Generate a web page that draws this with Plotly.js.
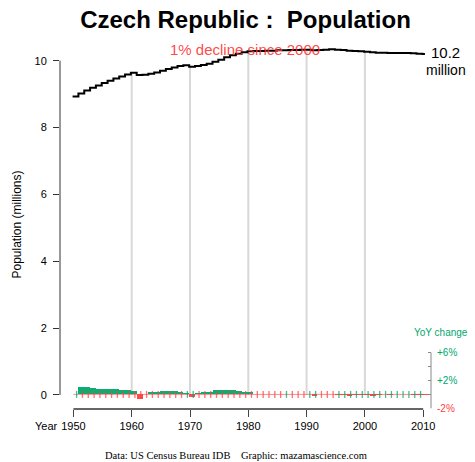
<!DOCTYPE html>
<html>
<head>
<meta charset="utf-8">
<script src="https://cdn.plot.ly/plotly-3.0.1.min.js"></script>
<style>html,body{margin:0;padding:0;background:#fff;}#chart{width:475px;height:462px;}</style>
</head>
<body>
<div id="chart"></div>
<script>
// ---- data ----
const years = [1950,1951,1952,1953,1954,1955,1956,1957,1958,1959,
               1960,1961,1962,1963,1964,1965,1966,1967,1968,1969,
               1970,1971,1972,1973,1974,1975,1976,1977,1978,1979,
               1980,1981,1982,1983,1984,1985,1986,1987,1988,1989,
               1990,1991,1992,1993,1994,1995,1996,1997,1998,1999,
               2000,2001,2002,2003,2004,2005,2006,2007,2008,2009,2010];
// population, millions
const population = [8.93,9.02,9.11,9.19,9.26,9.33,9.40,9.47,9.53,9.59,
                    9.64,9.57,9.58,9.61,9.65,9.70,9.75,9.80,9.84,9.86,
                    9.82,9.84,9.87,9.91,9.97,10.03,10.10,10.16,10.21,10.25,
                    10.28,10.29,10.29,10.30,10.30,10.31,10.31,10.32,10.32,10.33,
                    10.33,10.31,10.32,10.33,10.34,10.33,10.32,10.30,10.29,10.28,
                    10.27,10.25,10.24,10.24,10.23,10.23,10.23,10.23,10.22,10.21,10.20];
// yearly rug mark colour (g = green, r = red), 1950..2009
const rugSign = ['g','r','r','r','r','r','r','r','r','r',
                 'r','r','r','r','r','r','r','r','r','g',
                 'g','r','r','r','r','r','r','r','r','r',
                 'r','r','r','r','r','r','g','r','r','r',
                 'g','g','r','r','r','g','g','g','g','g',
                 'g','g','g','g','g','g','g','g','g','g'];
const decades = [1960,1970,1980,1990,2000];
const xTicks = [1950,1960,1970,1980,1990,2000,2010];
const xTickText = ['1950','1960','1970','1980','1990','2000','2010'];
const yTicks = [0,2,4,6,8,10];
const yoyTicks = [-2,0,2,4,6];
const yoyLabels = [{v:6,t:'+6%'},{v:2,t:'+2%'},{v:-2,t:'-2%'}];

// ---- styling ----
const GREEN = '#00a86b', RED = '#ff4040';
const SANS = 'Liberation Sans, Arial, sans-serif';
const SHIFT = -0.14;

// population step line
const lx = years.map(y => y + SHIFT);
const ly = population.slice();
lx.push(years[years.length-1] + 0.3); ly.push(population[population.length-1]);

// YoY bars
const yoyX = [], yoyY = [], yoyC = [];
for (let i = 1; i < years.length; i++) {
  const v = 100 * (population[i] - population[i-1]) / population[i-1];
  yoyX.push(years[i] + SHIFT + 0.5);
  yoyY.push(v);
  yoyC.push(v >= 0 ? GREEN : RED);
}

// rug ticks
function rug(sign) {
  const x = [], y = [];
  rugSign.forEach((s, i) => {
    if (s !== sign) return;
    const xx = years[i] + 0.55;
    x.push(xx, xx, null); y.push(-0.5, 0.5, null);
  });
  return {x, y};
}
const rg = rug('g'), rr = rug('r');

const traces = [
  {x: rr.x, y: rr.y, yaxis: 'y2', mode: 'lines', line: {color: 'rgba(255,64,64,0.75)', width: 1.3}, hoverinfo: 'skip', showlegend: false},
  {x: rg.x, y: rg.y, yaxis: 'y2', mode: 'lines', line: {color: 'rgba(0,168,107,0.75)', width: 1.3}, hoverinfo: 'skip', showlegend: false},
  {type: 'bar', x: yoyX, y: yoyY, width: 1, yaxis: 'y2', marker: {color: yoyC, line: {width: 0}}, opacity: 0.95, hoverinfo: 'skip', showlegend: false},
  {x: lx, y: ly, mode: 'lines', line: {shape: 'hv', color: '#000', width: 2}, hoverinfo: 'skip', showlegend: false}
];

const shapes = [];
decades.forEach(d => {
  const p = population[years.indexOf(d)];
  shapes.push({type: 'line', layer: 'below', xref: 'x', yref: 'y', x0: d, x1: d, y0: 0, y1: p, line: {color: '#d8d8d8', width: 2}});
});
// zero line for yoy
shapes.push({type: 'line', layer: 'below', xref: 'x', yref: 'y2', x0: years[0], x1: years[years.length-1], y0: 0, y1: 0, line: {color: 'rgba(255,64,64,0.6)', width: 1}});
// axis lines
shapes.push({type: 'line', xref: 'paper', yref: 'y', x0: 0, x1: 0, y0: yTicks[0], y1: yTicks[yTicks.length-1], line: {color: '#333', width: 1}});
shapes.push({type: 'line', xref: 'x', yref: 'paper', x0: xTicks[0], x1: xTicks[xTicks.length-1], y0: 0, y1: 0, line: {color: '#666', width: 2}});
shapes.push({type: 'line', xref: 'paper', yref: 'y2', x0: 1, x1: 1, y0: yoyTicks[0], y1: yoyTicks[yoyTicks.length-1], line: {color: '#888', width: 1}});

const annotations = [
  {text: '1% decline since 2000', xref: 'paper', yref: 'paper', x: 0.4987, y: 0.973, xanchor: 'center', yanchor: 'middle', showarrow: false, font: {family: SANS, size: 15, color: 'rgba(255,50,50,0.9)'}},
  {text: '10.2', xref: 'paper', yref: 'paper', x: 1.040, y: 0.967, xanchor: 'center', yanchor: 'middle', showarrow: false, font: {family: SANS, size: 15, color: '#000'}},
  {text: 'million', xref: 'paper', yref: 'paper', x: 1.040, y: 0.919, xanchor: 'center', yanchor: 'middle', showarrow: false, font: {family: SANS, size: 14, color: '#000'}},
  {text: 'YoY change', xref: 'paper', yref: 'paper', x: 1.027, y: 0.206, xanchor: 'center', yanchor: 'middle', showarrow: false, font: {family: SANS, size: 10, color: GREEN}},
  {text: 'Year', xref: 'x', yref: 'paper', x: xTicks[0], y: 0, xanchor: 'right', yanchor: 'middle', xshift: -13, yshift: -17, showarrow: false, font: {family: SANS, size: 11, color: '#000'}},
  {text: 'Data: US Census Bureau IDB\u00a0\u00a0\u00a0 Graphic: mazamascience.com', xref: 'paper', yref: 'paper', x: 0.474, y: -0.1247, xanchor: 'center', yanchor: 'middle', showarrow: false, font: {family: 'Liberation Serif, Times New Roman, serif', size: 10.5, color: '#000'}}
];
yoyLabels.forEach(l => annotations.push({text: l.t, xref: 'paper', yref: 'y2', x: 1, y: l.v, xanchor: 'left', yanchor: 'middle', xshift: 4, showarrow: false, font: {family: SANS, size: 10, color: l.v > 0 ? GREEN : RED}}));

const layout = {
  width: 475, height: 462,
  margin: {l: 60, r: 44, t: 40, b: 53, pad: 0},
  paper_bgcolor: '#fff', plot_bgcolor: '#fff',
  showlegend: false,
  bargap: 0,
  title: {text: 'Czech Republic :\u00a0 Population', xref: 'paper', x: 0.5, xanchor: 'center', yref: 'container', y: 0.9567, yanchor: 'middle', font: {family: SANS, size: 24, weight: 'bold', color: '#000'}},
  xaxis: {range: [1947.70, 2011.34], tickvals: xTicks, ticktext: xTickText, ticks: 'outside', ticklen: 7, tickcolor: '#444', tickwidth: 1,
          showline: false, showgrid: false, zeroline: false, tickfont: {family: SANS, size: 11, color: '#000'}, fixedrange: true},
  yaxis: {range: [-0.419, 10.619], tickvals: yTicks, ticks: 'outside', ticklen: 6, tickcolor: '#333', tickwidth: 1,
          showline: false, showgrid: false, zeroline: false, tickfont: {family: SANS, size: 11, color: '#000'}, ticklabelstandoff: 4,
          title: {text: 'Population (millions)', font: {family: SANS, size: 12, color: '#000'}, standoff: 10}},
  yaxis2: {overlaying: 'y', side: 'right', range: [-2.10, 50.99], tickvals: yoyTicks, ticks: 'inside', ticklen: 3, tickcolor: '#888',
           showticklabels: false, showline: false, showgrid: false, zeroline: false},
  shapes: shapes,
  annotations: annotations
};

Plotly.newPlot('chart', traces, layout, {staticPlot: true, displayModeBar: false});
</script>
</body>
</html>
